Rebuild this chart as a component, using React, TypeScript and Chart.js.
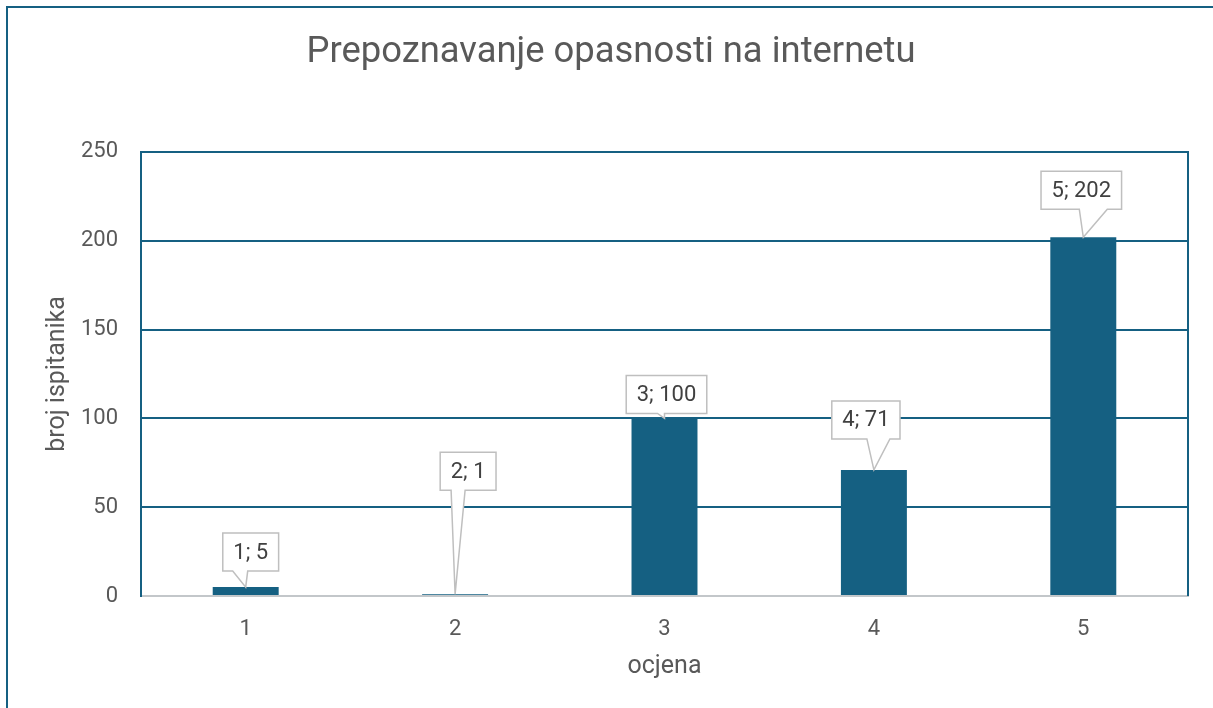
import React, { useEffect, useRef } from "react";
import { Chart, registerables } from "chart.js";

Chart.register(...registerables);

// ---- data ----
const categories: string[] = ["1", "2", "3", "4", "5"];
const values: number[] = [5, 1, 100, 71, 202];
const yMin = 0;
const yMax = 250;
const yStep = 50;
const chartTitle = "Prepoznavanje opasnosti na internetu";
const xTitle = "ocjena";
const yTitle = "broj ispitanika";

// ---- styling / layout (not data) ----
const BLUE = "#156082";
const TEXT = "#595959";
const LABEL_TEXT = "#404040";
const AXIS_GRAY = "#C3C7CA";
const CALLOUT_BORDER = "#BFBFBF";
const FONT = "Roboto";

// callout placement relative to bar top (offset of box centre, gap from tip, tail base relative to box centre)
const calloutLayout = [
  { dx: 5, gap: 16, tailL: -18, tailR: -3 },
  { dx: 13, gap: 104, tailL: -17, tailR: -3 },
  { dx: 2, gap: 5, tailL: -9, tailR: -2 },
  { dx: -8, gap: 31, tailL: 1, tailR: 24 },
  { dx: -2, gap: 28, tailL: -2, tailR: 26 },
];

const calloutPlugin = {
  id: "callouts",
  beforeDatasetsDraw(chart: any) {
    const { ctx, chartArea: a } = chart;
    ctx.save();
    ctx.strokeStyle = BLUE;
    ctx.lineWidth = 2;
    ctx.beginPath();
    ctx.moveTo(a.right, a.top - 1);
    ctx.lineTo(a.right, a.bottom);
    ctx.stroke();
    ctx.restore();
  },
  afterDatasetsDraw(chart: any) {
    const { ctx } = chart;
    const meta = chart.getDatasetMeta(0);
    ctx.save();
    ctx.font = `22px ${FONT}`;
    meta.data.forEach((bar: any, i: number) => {
      const lay = calloutLayout[i];
      const text = `${categories[i]}; ${values[i]}`;
      const tw = ctx.measureText(text).width;
      const w = tw + 21;
      const h = 38;
      const tipX = bar.x;
      const tipY = bar.y;
      const cx = tipX + lay.dx;
      const bottom = tipY - lay.gap;
      const top = bottom - h;
      const left = cx - w / 2;
      const right = cx + w / 2;
      ctx.beginPath();
      ctx.moveTo(left, top);
      ctx.lineTo(right, top);
      ctx.lineTo(right, bottom);
      ctx.lineTo(cx + lay.tailR, bottom);
      ctx.lineTo(tipX, tipY);
      ctx.lineTo(cx + lay.tailL, bottom);
      ctx.lineTo(left, bottom);
      ctx.closePath();
      ctx.fillStyle = "#FFFFFF";
      ctx.fill();
      ctx.strokeStyle = CALLOUT_BORDER;
      ctx.lineWidth = 1.5;
      ctx.stroke();
      ctx.fillStyle = LABEL_TEXT;
      ctx.textAlign = "center";
      ctx.textBaseline = "middle";
      ctx.fillText(text, cx, (top + bottom) / 2 + 1);
    });
    ctx.restore();
  },
};

export default function App() {
  const canvasRef = useRef<HTMLCanvasElement | null>(null);

  useEffect(() => {
    if (!canvasRef.current) return;
    const chart = new Chart(canvasRef.current, {
      type: "bar",
      data: {
        labels: categories,
        datasets: [
          {
            data: values,
            backgroundColor: BLUE,
            borderWidth: 0,
            categoryPercentage: 1,
            barPercentage: 0.315,
          },
        ],
      },
      options: {
        responsive: false,
        animation: false,
        devicePixelRatio: 1,
        layout: { padding: { left: 26, top: 0, right: 60, bottom: 32 } },
        plugins: {
          legend: { display: false },
          tooltip: { enabled: false },
          title: {
            display: true,
            text: chartTitle,
            color: TEXT,
            font: { family: FONT, size: 36.4, weight: "normal" },
            padding: { top: 23, bottom: 77.3 },
          },
        },
        scales: {
          x: {
            grid: { display: false },
            border: { display: true, color: AXIS_GRAY, width: 2 },
            ticks: {
              color: TEXT,
              font: { family: FONT, size: 22 },
              padding: 12,
            },
            title: {
              display: true,
              text: xTitle,
              color: TEXT,
              font: { family: FONT, size: 25 },
              padding: { top: 0, bottom: 14.5 },
            },
            afterFit(scale: any) {
              scale.height = 100;
            },
          },
          y: {
            min: yMin,
            max: yMax,
            grid: {
              color: (c: any) => (c.tick && c.tick.value === 0 ? AXIS_GRAY : BLUE),
              lineWidth: 2,
              drawTicks: false,
            },
            border: { display: true, color: BLUE, width: 2 },
            ticks: {
              stepSize: yStep,
              color: TEXT,
              font: { family: FONT, size: 22 },
              padding: 23,
            },
            title: {
              display: true,
              text: yTitle,
              color: TEXT,
              font: { family: FONT, size: 25 },
              padding: { top: 8.5, bottom: 0 },
            },
            afterFit(scale: any) {
              scale.width = 107;
            },
          },
        },
      },
      plugins: [calloutPlugin],
    });
    return () => chart.destroy();
  }, []);

  return (
    <div
      style={{
        position: "fixed",
        left: 0,
        top: 0,
        width: 1213,
        height: 708,
        overflow: "hidden",
        background: "#FFFFFF",
      }}
    >
      <div
        style={{
          position: "absolute",
          left: 6,
          top: 6,
          width: 1260,
          height: 760,
          border: `2px solid ${BLUE}`,
          boxSizing: "content-box",
        }}
      >
        <canvas
          ref={canvasRef}
          width={1240}
          height={720}
          style={{ position: "absolute", left: 0, top: 0, width: 1240, height: 720 }}
        />
      </div>
    </div>
  );
}
